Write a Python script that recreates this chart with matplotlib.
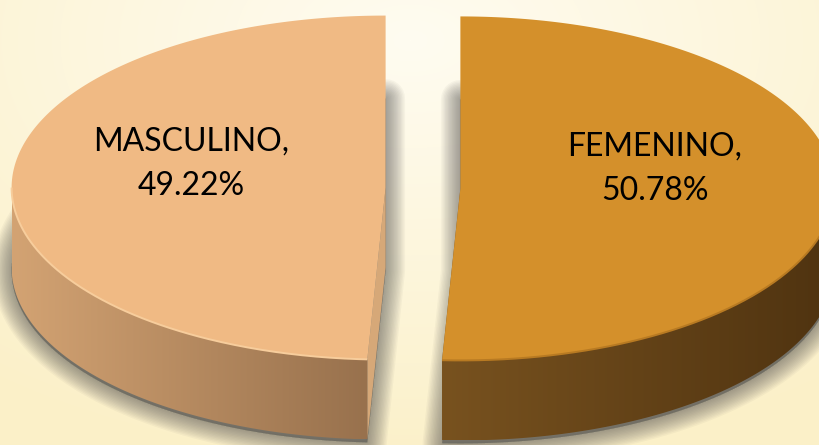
import numpy as np
import matplotlib.pyplot as plt
from matplotlib.patches import Polygon
from matplotlib.colors import to_rgb

# data
labels = ['FEMENINO', 'MASCULINO']
values = [50.78, 49.22]
top_colors = ['#D4902B', '#F0BA84']
side_left = ['#78521F', '#D3A373']
side_right = ['#4F3310', '#98714D']
wall_colors = ['#7A5424', '#D6A878']

W, H = 819, 445
fig = plt.figure(figsize=(W / 100, H / 100), dpi=100)
ax = fig.add_axes([0, 0, 1, 1])
ax.set_xlim(0, W)
ax.set_ylim(H, 0)
ax.axis('off')

# background gradient
Y, X = np.mgrid[0:H, 0:W]
r = np.clip(np.sqrt(((X - 410) / 700) ** 2 + ((Y - 40) / 430) ** 2), 0, 1)[..., None]
c0 = np.array(to_rgb('#FFFCF1'))
c1 = np.array(to_rgb('#FBF0C8'))
ax.imshow(c0 + (c1 - c0) * r, extent=(0, W, H, 0), zorder=0, aspect='auto')

# pie geometry
cx0, cy0 = 423, 188
rx, ry = 374, 172
depth = 80
explode = 0.1
start = 90


def pt(cx, cy, a):
    a = np.radians(a)
    return np.column_stack([cx + rx * np.cos(a), cy - ry * np.sin(a)])


angle = start
for i, (lab, v) in enumerate(zip(labels, values)):
    a0 = angle
    a1 = angle - 360 * v / 100
    angle = a1
    mid = (a0 + a1) / 2
    cx = cx0 + explode * rx * np.cos(np.radians(mid))
    cy = cy0 - explode * ry * np.sin(np.radians(mid))

    arc = pt(cx, cy, np.linspace(a0, a1, 200))
    wedge = np.vstack([[cx, cy], arc])

    # soft shadow from the bottom face
    shadow = wedge + [0, depth + 3]
    for lw in np.linspace(28, 2, 14):
        ax.add_patch(Polygon(shadow, closed=True, facecolor='#454545', edgecolor='#454545',
                             lw=lw, alpha=0.045, joinstyle='round', zorder=1))

    # radial walls
    for a in (a0, a1):
        p = pt(cx, cy, [a])[0]
        wall = np.array([[cx, cy], p, p + [0, depth], [cx, cy + depth]])
        ax.add_patch(Polygon(wall, closed=True, facecolor=wall_colors[i], edgecolor='none', zorder=2))

    # outer side (front half only)
    lo, hi = max(min(a0, a1), -180), min(max(a0, a1), 0)
    if hi > lo:
        front = pt(cx, cy, np.linspace(lo, hi, 200))
        side = np.vstack([front, front[::-1] + [0, depth]])
        patch = Polygon(side, closed=True, facecolor='none', edgecolor='none', zorder=3)
        ax.add_patch(patch)
        x_min, x_max = side[:, 0].min(), side[:, 0].max()
        y_min, y_max = side[:, 1].min(), side[:, 1].max()
        cl, cr = np.array(to_rgb(side_left[i])), np.array(to_rgb(side_right[i]))
        t = np.linspace(0, 1, 256)[None, :, None]
        grad = cl + (cr - cl) * t
        im = ax.imshow(np.repeat(grad, 2, axis=0), extent=(x_min, x_max, y_max, y_min),
                       zorder=3, aspect='auto')
        im.set_clip_path(patch)
        # thin rim at the front edge of the top face
        rim_col = '#F7CD9C' if i == 1 else '#B87A22'
        ax.plot(front[:, 0], front[:, 1], color=rim_col, lw=1.4, zorder=4.5,
                solid_capstyle='butt')

    # top face
    ax.add_patch(Polygon(wedge, closed=True, facecolor=top_colors[i], edgecolor='none', zorder=4))

    # label
    lx = cx + 0.52 * rx * np.cos(np.radians(mid))
    ly = cy - 0.52 * ry * np.sin(np.radians(mid)) - 22
    ax.text(lx, ly, f'{lab},\n{v:.2f}%', ha='center', va='center', ma='center',
            fontsize=23, family=['Lato', 'DejaVu Sans'], color='black',
            linespacing=1.6, zorder=6)

fig.savefig('out.png', dpi=100)
